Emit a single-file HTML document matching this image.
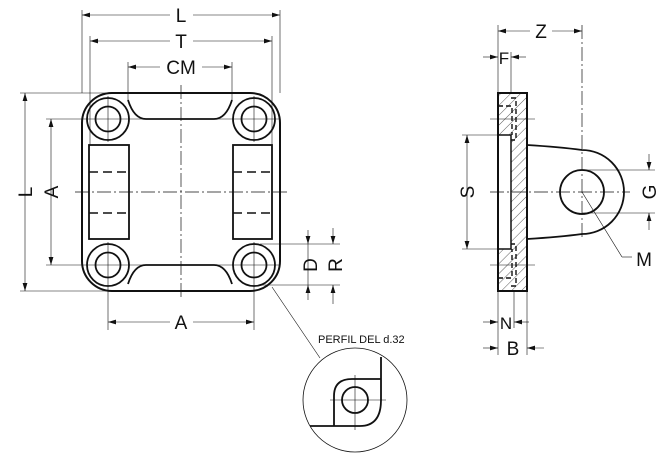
<!DOCTYPE html>
<html><head><meta charset="utf-8"><style>
html,body{margin:0;padding:0;background:#fff;}
svg{display:block;}
text{font-family:"Liberation Sans",sans-serif;fill:#111;}
</style></head><body>
<svg width="668" height="456" viewBox="0 0 668 456" xmlns="http://www.w3.org/2000/svg">
<defs>
<marker id="a" viewBox="0 0 10 6" refX="10" refY="3" markerWidth="8" markerHeight="5" orient="auto-start-reverse" markerUnits="userSpaceOnUse"><path d="M0,0 L10,3 L0,6 z" fill="#111"/></marker>
<pattern id="h" width="7" height="7" patternUnits="userSpaceOnUse" patternTransform="rotate(45)"><line x1="0" y1="0" x2="0" y2="7" stroke="#333" stroke-width="0.8"/></pattern>
</defs>
<g fill="none" stroke="#111">
<!-- front view plate -->
<path d="M112,93 H250 A30,30 0 0 1 280,123 V261 A30,30 0 0 1 250,291 H112 A30,30 0 0 1 82,261 V123 A30,30 0 0 1 112,93 Z" stroke-width="2"/>
<path d="M128,100 Q134,119 146,119 H214 Q226,119 232,100" stroke-width="1.8"/>
<path d="M128,284 Q134,265 146,265 H214 Q226,265 232,284" stroke-width="1.8"/>
<g stroke-width="1.8">
<circle cx="108" cy="119" r="21"/><circle cx="108" cy="119" r="12.5"/>
<circle cx="254" cy="119" r="21"/><circle cx="254" cy="119" r="12.5"/>
<circle cx="108" cy="265" r="21"/><circle cx="108" cy="265" r="12.5"/>
<circle cx="254" cy="265" r="21"/><circle cx="254" cy="265" r="12.5"/>
<rect x="89" y="145" width="40" height="94"/>
<rect x="233" y="145" width="39" height="94"/>
</g>
<g stroke-width="1.5" stroke-dasharray="9,5">
<line x1="89" y1="172" x2="129" y2="172"/><line x1="89" y1="213" x2="129" y2="213"/>
<line x1="233" y1="172" x2="272" y2="172"/><line x1="233" y1="213" x2="272" y2="213"/>
</g>
<!-- center lines -->
<g stroke-width="0.7" stroke-dasharray="14,3,2,3">
<line x1="181" y1="85" x2="181" y2="300"/>
<line x1="75" y1="192" x2="288" y2="192"/>
</g>
<g stroke-width="0.6">
<line x1="108" y1="96" x2="108" y2="142"/><line x1="254" y1="96" x2="254" y2="142"/>
<line x1="108" y1="242" x2="108" y2="330"/><line x1="254" y1="242" x2="254" y2="330"/>
<line x1="46" y1="119" x2="280" y2="119"/><line x1="46" y1="265" x2="280" y2="265"/>
<!-- extension lines -->
<line x1="82" y1="10" x2="82" y2="93"/><line x1="280" y1="10" x2="280" y2="93"/>
<line x1="90" y1="36" x2="90" y2="145"/><line x1="272" y1="36" x2="272" y2="145"/>
<line x1="128" y1="62" x2="128" y2="100"/><line x1="232" y1="62" x2="232" y2="100"/>
<line x1="20" y1="93" x2="112" y2="93"/><line x1="20" y1="291" x2="112" y2="291"/>
<line x1="260" y1="244" x2="340" y2="244"/><line x1="260" y1="285" x2="340" y2="285"/>
<!-- dims -->
<line x1="82" y1="15" x2="170" y2="15" marker-start="url(#a)"/><line x1="193" y1="15" x2="280" y2="15" marker-end="url(#a)"/>
<line x1="90" y1="41" x2="170" y2="41" marker-start="url(#a)"/><line x1="193" y1="41" x2="272" y2="41" marker-end="url(#a)"/>
<line x1="128" y1="67" x2="160" y2="67" marker-start="url(#a)"/><line x1="202" y1="67" x2="232" y2="67" marker-end="url(#a)"/>
<line x1="25" y1="93" x2="25" y2="291" marker-start="url(#a)" marker-end="url(#a)"/>
<line x1="51" y1="119" x2="51" y2="265" marker-start="url(#a)" marker-end="url(#a)"/>
<line x1="108" y1="322" x2="170" y2="322" marker-start="url(#a)"/><line x1="193" y1="322" x2="254" y2="322" marker-end="url(#a)"/>
<line x1="308" y1="230" x2="308" y2="244" marker-end="url(#a)"/><line x1="308" y1="300" x2="308" y2="285" marker-end="url(#a)"/>
<line x1="308" y1="244" x2="308" y2="285"/>
<line x1="333" y1="228" x2="333" y2="244" marker-end="url(#a)"/><line x1="333" y1="304" x2="333" y2="285" marker-end="url(#a)"/>
<!-- leader to detail -->
<line x1="272" y1="287" x2="320" y2="358"/>
</g>
<!-- detail circle -->
<circle cx="355" cy="400" r="52" stroke-width="0.8"/>
<g stroke-width="1.8">
<path d="M381,357 V400 Q381,426 360,426 H310"/>
<path d="M381,379 H352 Q334,379 334,396 V426"/>
<circle cx="355" cy="400" r="13"/>
</g>
<g stroke-width="0.6"><line x1="330" y1="400" x2="386" y2="400"/><line x1="355" y1="375" x2="355" y2="430"/></g>

<!-- side view -->
<rect x="498" y="93" width="29" height="198" fill="url(#h)" stroke="none"/>
<rect x="498" y="135" width="13" height="114" fill="#fff" stroke="none"/>
<rect x="498" y="93" width="29" height="198" stroke-width="2"/>
<rect x="498" y="135" width="13" height="114" stroke-width="1.5"/>
<g stroke-width="1.4" stroke-dasharray="5,3">
<path d="M498,106 H512 V135"/><path d="M511,98 H516 V140 H511"/>
<path d="M498,278 H512 V249"/><path d="M511,286 H516 V244 H511"/>
</g>
<path d="M527,145 Q560,147 582,150 A42,42 0 0 1 582,234 Q560,237 527,239" stroke-width="1.8"/>
<circle cx="582" cy="192" r="22" stroke-width="1.8"/>
<g stroke-width="0.7" stroke-dasharray="14,3,2,3">
<line x1="490" y1="192" x2="630" y2="192"/>
<line x1="582" y1="25" x2="582" y2="240"/>
</g>
<g stroke-width="0.6">
<line x1="490" y1="119" x2="535" y2="119"/><line x1="490" y1="265" x2="535" y2="265"/>
<line x1="498" y1="25" x2="498" y2="93"/><line x1="511" y1="52" x2="511" y2="93"/>
<line x1="498" y1="291" x2="498" y2="355"/><line x1="514" y1="291" x2="514" y2="328"/><line x1="527" y1="291" x2="527" y2="355"/>
<line x1="462" y1="135" x2="498" y2="135"/><line x1="462" y1="249" x2="498" y2="249"/>
<line x1="582" y1="170" x2="655" y2="170"/><line x1="582" y1="213" x2="655" y2="213"/>
<line x1="498" y1="31" x2="530" y2="31" marker-start="url(#a)"/><line x1="552" y1="31" x2="582" y2="31" marker-end="url(#a)"/>
<line x1="483" y1="57" x2="498" y2="57" marker-end="url(#a)"/><line x1="526" y1="57" x2="511" y2="57" marker-end="url(#a)"/>
<line x1="467" y1="135" x2="467" y2="249" marker-start="url(#a)" marker-end="url(#a)"/>
<line x1="649" y1="154" x2="649" y2="170" marker-end="url(#a)"/><line x1="649" y1="230" x2="649" y2="213" marker-end="url(#a)"/>
<line x1="582" y1="192" x2="622" y2="257"/><line x1="622" y1="257" x2="632" y2="257"/>
<line x1="483" y1="322" x2="498" y2="322" marker-end="url(#a)"/><line x1="529" y1="322" x2="514" y2="322" marker-end="url(#a)"/>
<line x1="483" y1="348" x2="498" y2="348" marker-end="url(#a)"/><line x1="544" y1="348" x2="527" y2="348" marker-end="url(#a)"/>
</g>
</g>
<g font-size="19">
<text x="181" y="22" text-anchor="middle">L</text>
<text x="181" y="48" text-anchor="middle">T</text>
<text x="181" y="74" text-anchor="middle">CM</text>
<text x="181" y="329" text-anchor="middle">A</text>
<text transform="translate(32,192) rotate(-90)" text-anchor="middle">L</text>
<text transform="translate(58,192) rotate(-90)" text-anchor="middle">A</text>
<text transform="translate(317,265) rotate(-90)" text-anchor="middle">D</text>
<text transform="translate(342,265) rotate(-90)" text-anchor="middle">R</text>
<text x="541" y="38" text-anchor="middle">Z</text>
<text x="504" y="64" text-anchor="middle" font-size="17">F</text>
<text transform="translate(474,192) rotate(-90)" text-anchor="middle">S</text>
<text transform="translate(656,192) rotate(-90)" text-anchor="middle">G</text>
<text x="644" y="266" text-anchor="middle">M</text>
<text x="506" y="329" text-anchor="middle" font-size="17">N</text>
<text x="513" y="355" text-anchor="middle">B</text>
</g>
<text x="318" y="343" font-size="11">PERFIL DEL d.32</text>
</svg>
</body></html>
